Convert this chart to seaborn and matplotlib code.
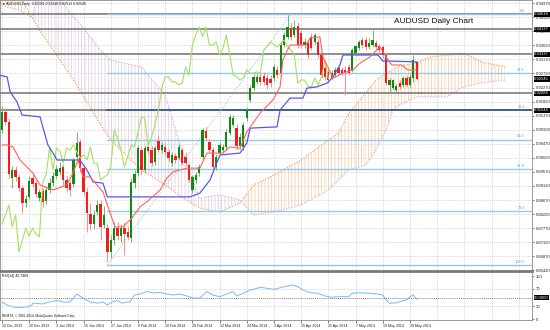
import numpy as np
import pandas as pd
import matplotlib
matplotlib.use("Agg")
import matplotlib.pyplot as plt
import seaborn as sns

# ---------------- data ----------------
opens = [0.9091,0.9149,0.9117,0.8937,0.8963,0.8941,0.8905,0.8857,0.8877,0.8937,
         0.8921,0.8873,0.8896,0.8864,0.8899,0.8921,0.8944,0.8957,0.8973,0.8931,
         0.8921,0.8918,0.9005,0.9053,0.8969,0.8893,0.8822,0.8790,0.8829,0.8854,
         0.8787,0.8777,0.8701,0.8739,0.8777,0.8752,0.8777,0.8765,0.8745,0.8921,
         0.8953,0.9027,0.8963,0.9037,0.9027,0.8989,0.9056,0.9027,0.9037,0.9021,
         0.8985,0.9008,0.9001,0.9027,0.9005,0.8979,0.8899,0.8931,0.8953,0.9005,
         0.9088,0.9053,0.9027,0.8973,0.9017,0.9027,0.9037,0.9081,0.9107,0.9097,
         0.9040,0.9037,0.9129,0.9187,0.9225,0.9245,0.9261,0.9264,0.9257,0.9254,
         0.9257,0.9283,0.9273,0.9363,0.9389,0.9417,0.9395,0.9424,0.9401,0.9363,
         0.9369,0.9389,0.9373,0.9373,0.9331,0.9289,0.9277,0.9273,0.9267,0.9289,
         0.9283,0.9283,0.9293,0.9283,0.9337,0.9353,0.9379,0.9379,0.9357,0.9363,
         0.9369,0.9360,0.9357,0.9331,0.9235,0.9225,0.9219,0.9241,0.9235,0.9257,
         0.9235,0.9257,0.93081]
highs = [0.9168,0.9161,0.9129,0.8976,0.8976,0.8950,0.8915,0.8883,0.8944,0.8950,
         0.8931,0.8902,0.8905,0.8912,0.8937,0.8957,0.8979,0.8989,0.8982,0.8944,
         0.8931,0.9001,0.9085,0.9062,0.8979,0.8905,0.8857,0.8835,0.8867,0.8867,
         0.8848,0.8790,0.8755,0.8797,0.8797,0.8790,0.8797,0.8784,0.8937,0.8963,
         0.9043,0.9037,0.9043,0.9046,0.9040,0.9040,0.9075,0.9053,0.9049,0.9030,
         0.9021,0.9017,0.9046,0.9033,0.9021,0.8985,0.8947,0.8957,0.8982,0.9097,
         0.9101,0.9062,0.9037,0.9014,0.9053,0.9046,0.9094,0.9142,0.9139,0.9110,
         0.9081,0.9117,0.9165,0.9235,0.9270,0.9270,0.9273,0.9277,0.9270,0.9267,
         0.9302,0.9296,0.9373,0.9405,0.9459,0.9437,0.9443,0.9437,0.9411,0.9385,
         0.9379,0.9401,0.9401,0.9385,0.9337,0.9299,0.9286,0.9283,0.9293,0.9299,
         0.9293,0.9296,0.9302,0.9353,0.9363,0.9379,0.9389,0.9389,0.9385,0.9411,
         0.9379,0.9366,0.9363,0.9341,0.9257,0.9254,0.9238,0.9251,0.9264,0.9267,
         0.9270,0.9331,0.93110]
lows = [0.9081,0.9107,0.8937,0.8905,0.8928,0.8893,0.8825,0.8845,0.8870,0.8909,
        0.8877,0.8864,0.8845,0.8854,0.8889,0.8912,0.8934,0.8947,0.8915,0.8893,
        0.8880,0.8909,0.8995,0.8957,0.8880,0.8765,0.8771,0.8774,0.8819,0.8739,
        0.8777,0.8669,0.8681,0.8723,0.8739,0.8733,0.8691,0.8739,0.8733,0.8905,
        0.8944,0.8947,0.8953,0.9014,0.8976,0.8979,0.9021,0.9017,0.9011,0.8992,
        0.8976,0.8985,0.8995,0.8979,0.8976,0.8925,0.8889,0.8921,0.8944,0.8995,
        0.9059,0.9021,0.8963,0.8963,0.9011,0.9017,0.9027,0.9075,0.9101,0.9027,
        0.9030,0.9027,0.9120,0.9181,0.9219,0.9238,0.9235,0.9235,0.9222,0.9229,
        0.9248,0.9257,0.9264,0.9357,0.9382,0.9379,0.9389,0.9353,0.9353,0.9353,
        0.9321,0.9347,0.9366,0.9321,0.9257,0.9251,0.9241,0.9251,0.9261,0.9267,
        0.9267,0.9203,0.9267,0.9277,0.9331,0.9347,0.9353,0.9347,0.9350,0.9357,
        0.9350,0.9341,0.9321,0.9235,0.9213,0.9219,0.9213,0.9222,0.9229,0.9229,
        0.9229,0.9245,0.92513]
closes = [0.9149,0.9117,0.8950,0.8963,0.8941,0.8905,0.8857,0.8870,0.8928,0.8918,
          0.8886,0.8893,0.8861,0.8899,0.8921,0.8944,0.8966,0.8969,0.8931,0.8905,
          0.8899,0.8995,0.9049,0.8969,0.8893,0.8825,0.8790,0.8819,0.8851,0.8781,
          0.8819,0.8701,0.8739,0.8777,0.8752,0.8777,0.8758,0.8749,0.8925,0.8950,
          0.9033,0.8963,0.9033,0.9024,0.8985,0.9033,0.9027,0.9043,0.9021,0.9001,
          0.9011,0.8995,0.9037,0.8985,0.8985,0.8931,0.8941,0.8947,0.8973,0.9091,
          0.9065,0.9027,0.8973,0.9005,0.9043,0.9037,0.9085,0.9133,0.9129,0.9040,
          0.9069,0.9107,0.9155,0.9225,0.9261,0.9261,0.9245,0.9245,0.9235,0.9241,
          0.9293,0.9267,0.9363,0.9395,0.9421,0.9389,0.9421,0.9363,0.9363,0.9373,
          0.9331,0.9353,0.9395,0.9331,0.9267,0.9261,0.9251,0.9257,0.9283,0.9273,
          0.9273,0.9277,0.9273,0.9347,0.9360,0.9373,0.9363,0.9357,0.9369,0.9379,
          0.9357,0.9347,0.9331,0.9241,0.9251,0.9251,0.9232,0.9229,0.9257,0.9235,
          0.9261,0.9315,0.92545]

tenkan_idx = [0, 1.5, 3.2, 5.3, 9.1, 11.2, 15, 19, 20.6, 22.4, 23.8, 25.9, 29.7, 31,
              33.2, 35.6, 38.2, 40.6, 42.6, 46.5, 48.5, 50.3, 54.4, 58.2, 60.3, 65, 67,
              70, 72, 75.9, 79.7, 81.8, 82.6, 84.7, 89.4, 90.6, 93.5, 94.4, 97.4, 100.3,
              103.2, 105.3, 108.2, 111.2, 113.5, 114.7, 117.6, 119.4, 122]
tenkan_val = [0.9043, 0.9043, 0.9037, 0.8995, 0.8953, 0.8915, 0.8899, 0.8915, 0.8947,
              0.8995, 0.8941, 0.8941, 0.8893, 0.8851, 0.8781, 0.8781, 0.8809, 0.8845,
              0.8861, 0.8899, 0.8937, 0.8957, 0.8969, 0.8969, 0.9017, 0.9017, 0.9037,
              0.9033, 0.9085, 0.9145, 0.9187, 0.9229, 0.9315, 0.9363, 0.9363, 0.9385,
              0.9389, 0.9325, 0.9257, 0.9273, 0.9283, 0.9305, 0.9325, 0.9357, 0.9315,
              0.9299, 0.9299, 0.9283, 0.9283]
kijun_idx = [-1, 1.5, 2.4, 4.4, 5.9, 11.2, 12, 13.5, 15, 16.2, 22.9, 25, 26.8, 29.7, 31,
             55.3, 58.2, 61.2, 64.1, 70, 72, 73, 80.9, 81.8, 84.7, 88.5, 89.7, 92.6,
             95.6, 97.4, 99.4, 100.3, 110.6, 112, 122]
kijun_val = [0.9267, 0.9261, 0.9213, 0.9181, 0.9139, 0.9133, 0.9101, 0.9043, 0.9017,
             0.8995, 0.8995, 0.8963, 0.8925, 0.8921, 0.8877, 0.8877, 0.8889, 0.8931,
             0.9011, 0.9017, 0.9049, 0.9097, 0.9101, 0.9155, 0.9193, 0.9193, 0.9225,
             0.9229, 0.9241, 0.9261, 0.9299, 0.9331, 0.9331, 0.9312, 0.9309]

cloud_idx = [-1, 5, 9, 11, 17, 22, 29, 32, 41, 48, 52, 58, 64, 70, 74, 80, 88, 96, 99,
             102, 107, 110, 113, 115, 117, 122, 126, 131, 135, 137, 141, 148]
span_a = [0.9571, 0.9523, 0.9449, 0.9411, 0.9315, 0.9235, 0.9107, 0.9059, 0.8963,
          0.8915, 0.8883, 0.8841, 0.8829, 0.8857, 0.8915, 0.8947, 0.8995, 0.9059,
          0.9081, 0.9145, 0.9209, 0.9251, 0.9273, 0.9283, 0.9296, 0.9305, 0.9325,
          0.9331, 0.9337, 0.9331, 0.9309, 0.9293]
span_b = [0.9491, 0.9475, 0.9449, 0.9571, 0.9507, 0.9443, 0.9347, 0.9315, 0.9293,
          0.9203, 0.9059, 0.8873, 0.8883, 0.8867, 0.8819, 0.8829, 0.8851, 0.8899,
          0.8931, 0.8963, 0.8979, 0.9027, 0.9091, 0.9155, 0.9171, 0.9197, 0.9197,
          0.9197, 0.9225, 0.9232, 0.9241, 0.9251]

rsi_idx = [0, 1.5, 3.2, 5.3, 7.4, 8.8, 9.1, 12, 14, 16.2, 18, 20, 22, 23.8, 25.9, 28,
           29.7, 31, 32.4, 33.8, 35.3, 36.8, 37.6, 39, 40.6, 42.6, 44.4, 46.5, 48.5,
           50.3, 52.4, 54.4, 56.2, 58.2, 60.3, 62, 64, 66, 68, 69, 71, 73, 75, 76, 78,
           80, 83, 85.3, 87, 89, 91, 93, 95, 97, 99, 102, 103, 105, 108, 110.6, 112,
           113, 114, 116, 118, 119, 120, 121, 122]
rsi_val = [39.5, 32.6, 28, 26.7, 28, 32.6, 37, 35, 39.5, 43, 39.5, 39.5, 58, 48.8,
           39.5, 37, 39.5, 32.6, 39.5, 43, 37, 39.5, 39.5, 56, 58, 64, 60.5, 61.6, 58,
           56, 58, 53.5, 48.8, 48.8, 64, 56, 51.9, 58, 63.5, 53.5, 59.8, 67.4, 71.4,
           73.7, 71.4, 69, 75, 79, 75, 65.8, 61, 59.8, 53.5, 50.5, 51.9, 51.9, 59.8,
           61, 59.8, 58, 56, 44, 36.5, 37.9, 42.5, 44, 51.9, 56, 45.7]

date_labels = ["10 Dec 2013", "20 Dec 2013", "3 Jan 2014", "15 Jan 2014",
               "27 Jan 2014", "6 Feb 2014", "18 Feb 2014", "28 Feb 2014",
               "12 Mar 2014", "24 Mar 2014", "3 Apr 2014", "15 Apr 2014",
               "25 Apr 2014", "7 May 2014", "19 May 2014", "29 May 2014"]
price_ticks = [0.86420, 0.86870, 0.87320, 0.87770, 0.88220, 0.88670, 0.89120, 0.89570,
               0.90020, 0.90470, 0.90920, 0.91370, 0.91820, 0.92270, 0.92720, 0.93170,
               0.93620, 0.94070, 0.94520, 0.94970]
level_prices = [0.94618, 0.94137, 0.93337, 0.92088, 0.91544]
fib_high = 0.94618
fib_low = 0.86590
fib_ratios = [0.0, 23.6, 38.2, 50.0, 61.8, 78.6, 100.0]
last_info = "AUDUSD,Daily  0.93081 0.93110 0.92513 0.92545"

# ---------------- style ----------------
sns.set_theme(style="white")
plt.rcParams["font.family"] = ["Liberation Sans", "DejaVu Sans"]
plt.rcParams["hatch.linewidth"] = 0.5

W, H = 550, 330
fig = plt.figure(figsize=(5.5, 3.3), dpi=100)
fig.patch.set_facecolor("white")
ax = fig.add_axes([0, 1 - 271 / H, 532 / W, 271 / H])
rx = fig.add_axes([0, 1 - 320 / H, 532 / W, 47 / H])

n = len(closes)
idx = np.arange(n)
o = np.array(opens); c = np.array(closes); hi = np.array(highs); lo = np.array(lows)

x0, x1 = -0.59, 155.9
ax.set_xlim(x0, x1)
ax.set_ylim(0.86398, 0.9507)
rx.set_xlim(x0, x1)
rx.set_ylim(-2.3, 107)

grid_x = np.arange(0, 156, 8)
grid_kw = dict(color="#c9c9c9", lw=0.5, ls=(0, (1.5, 1.5)), zorder=0)
for g in grid_x:
    ax.axvline(g, **grid_kw)
    rx.axvline(g, **grid_kw)
for p in price_ticks:
    ax.axhline(p, **grid_kw)
for r in (30, 70):
    rx.axhline(r, **grid_kw)
rx.axhline(50, color="#555555", lw=0.5, ls=(0, (1.5, 1.5)), zorder=1)

# cloud
ci = np.array(cloud_idx, float); sa = np.array(span_a); sb = np.array(span_b)
ax.fill_between(ci, sa, sb, where=sa >= sb, interpolate=True, facecolor="none",
                edgecolor="#f8c6a0", hatch="|||||", lw=0, zorder=1)
ax.fill_between(ci, sa, sb, where=sa < sb, interpolate=True, facecolor="none",
                edgecolor="#dcc8dc", hatch="|||||", lw=0, zorder=1)
ax.plot(ci, sa, color="#f4a460", lw=0.9, ls=(0, (1, 1.2)), zorder=1)
ax.plot(ci, sb, color="#d2b4d2", lw=0.9, ls=(0, (1, 1.2)), zorder=1)

# horizontal levels
for lp in level_prices:
    ax.axhline(lp, color="#7b7b7b", lw=1.2, zorder=2)
fib_start = 31
for r in fib_ratios:
    lvl = fib_high - r / 100.0 * (fib_high - fib_low)
    col = "#3a5f8a" if r == 38.2 else "#93c9ee"
    ax.plot([fib_start, x1], [lvl, lvl], color=col, lw=1.0 if r != 38.2 else 1.3, zorder=2)
    ax.text(153.8, lvl + 0.0004, f"{r:.1f}", color="#5aa0dd", fontsize=2.8,
            ha="right", va="bottom", zorder=5)
ax.plot([31, 85], [fib_low, fib_high], color="#93c9ee", lw=0.8, ls=(0, (1, 1.5)), zorder=2)

# candles
up = c >= o
body_lo = np.minimum(o, c)
body_h = np.maximum(np.abs(c - o), 0.00012)
wick_cols = np.where(up, "#6fb56f", "#ff8a8a")
ax.vlines(idx, lo, hi, colors=wick_cols, lw=0.7, zorder=3)
ax.bar(idx, body_h, bottom=body_lo, width=0.66,
       color=np.where(up, "#118a11", "#f41c1c"), lw=0, zorder=3)

# ichimoku lines
df_t = pd.DataFrame({"i": tenkan_idx, "v": tenkan_val})
df_k = pd.DataFrame({"i": kijun_idx, "v": kijun_val})
df_c = pd.DataFrame({"i": idx[:-26], "v": c[26:]})
sns.lineplot(data=df_c, x="i", y="v", ax=ax, color="#a3e060", lw=0.8, zorder=4, sort=False)
sns.lineplot(data=df_k, x="i", y="v", ax=ax, color="#5858e8", lw=0.9, zorder=4, sort=False)
sns.lineplot(data=df_t, x="i", y="v", ax=ax, color="#ff6262", lw=0.8, zorder=4, sort=False)

# RSI
df_r = pd.DataFrame({"i": rsi_idx, "v": rsi_val})
sns.lineplot(data=df_r, x="i", y="v", ax=rx, color="#7ab8f5", lw=0.7, zorder=3, sort=False)

# axes styling
for a in (ax, rx):
    a.set_xlabel(""); a.set_ylabel("")
    a.set_facecolor("white")
    for s in a.spines.values():
        s.set_color("#8a8a8a"); s.set_linewidth(0.6)
ax.spines["bottom"].set_linewidth(2.0)
ax.spines["bottom"].set_color("#7a7a7a")
rx.spines["top"].set_linewidth(0.0)

ax.yaxis.tick_right()
ax.set_yticks(price_ticks)
ax.set_yticklabels([f"{p:.5f}" for p in price_ticks])
ax.tick_params(axis="y", which="both", right=True, length=1.5, width=0.4, pad=1.2,
               labelsize=3, colors="#222222")
ax.set_xticks([])

rx.yaxis.tick_right()
rx.set_yticks([0, 30, 70, 100])
rx.set_yticklabels(["0", "30", "70", "100"])
rx.tick_params(axis="y", right=True, length=1.5, width=0.4, pad=1.2, labelsize=3,
               colors="#222222")
rx.set_xticks(np.arange(0, 121, 8))
rx.set_xticklabels(date_labels, ha="left")
rx.tick_params(axis="x", bottom=True, length=2, width=0.4, pad=0.8, labelsize=2.6,
               colors="#222222")

# black value boxes on the price scale
box = dict(boxstyle="square,pad=0.15", fc="black", ec="none")
for lp in level_prices + [closes[-1]]:
    ax.text(1.004, lp, f"{lp:.5f}", transform=ax.get_yaxis_transform(), fontsize=3,
            color="white", ha="left", va="center", bbox=box, zorder=6, clip_on=False)
rx.text(1.004, 50, "50.0000", transform=rx.get_yaxis_transform(), fontsize=3,
        color="white", ha="left", va="center", bbox=box, clip_on=False)

# texts
fig.text(434 / W, 1 - 21.7 / H, "AUDUSD Daily Chart", fontsize=6, ha="center",
         va="center", color="#111111")
fig.text(2 / W, 1 - 4 / H, "\u25bc " + last_info, fontsize=2.5, ha="left", va="center",
         color="#111111", family=["Liberation Sans", "DejaVu Sans"])
fig.text(2 / W, 1 - 276 / H, "RSI(14) 45.7468", fontsize=2.5, ha="left", va="center",
         color="#111111")
fig.text(2 / W, 1 - 316 / H, "IM MT4, \u00a9 2001-2014, MetaQuotes Software Corp.",
         fontsize=2.3, ha="left", va="center", color="#111111")

fig.savefig("out.png", dpi=100, facecolor="white")
